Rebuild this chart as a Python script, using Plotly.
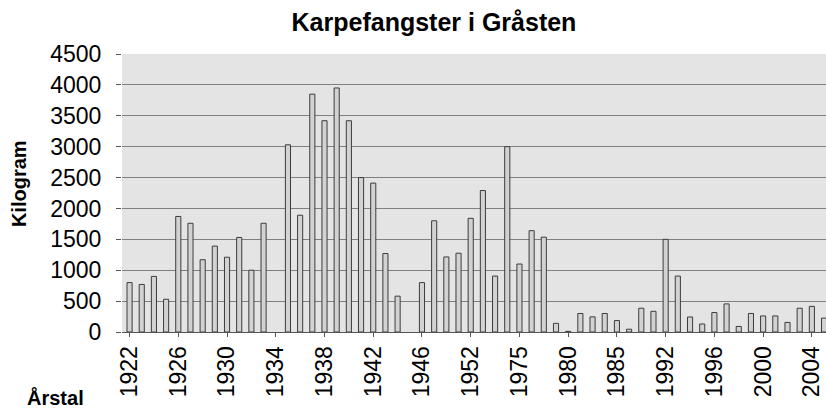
import plotly.graph_objects as go

years = ["1922", "1923", "1924", "1925", "1926", "1927", "1928", "1929", "1930", "1931",
         "1932", "1933", "1934", "1935", "1936", "1937", "1938", "1939", "1940", "1941",
         "1942", "1943", "1944", "1945", "1946", "1947", "1948", "1950", "1952", "1953",
         "1955", "1970", "1975", "1976", "1977", "1978", "1980", "1981", "1982", "1983",
         "1985", "1986", "1988", "1990", "1992", "1993", "1994", "1995", "1996", "1997",
         "1998", "1999", "2000", "2001", "2002", "2003", "2004", "2005"]
kilogram = [800, 770, 900, 530, 1870, 1760, 1170, 1390, 1210, 1530,
            1000, 1760, None, 3030, 1890, 3850, 3420, 3950, 3420, 2500,
            2410, 1270, 580, None, 800, 1800, 1215, 1275, 1840, 2290,
            905, 3000, 1100, 1640, 1535, 140, 10, 300, 245, 300,
            185, 45, 385, 335, 1500, 905, 243, 130, 315, 455,
            90, 300, 260, 260, 155, 385, 415, 225]
tick_labels = ["1922", "1926", "1930", "1934", "1938", "1942", "1946", "1952",
               "1975", "1980", "1985", "1992", "1996", "2000", "2004"]
y_ticks = [0, 500, 1000, 1500, 2000, 2500, 3000, 3500, 4000, 4500]

FONT = "Arial, Liberation Sans, sans-serif"

fig = go.Figure(go.Bar(
    x=years, y=kilogram,
    marker=dict(color="#d2d2d2", line=dict(color="#3c3c3c", width=1)),
))

fig.update_layout(
    width=826, height=409,
    margin=dict(l=122, r=0, t=54, b=77),
    paper_bgcolor="white",
    plot_bgcolor="#e4e4e4",
    bargap=0.58,
    showlegend=False,
    font=dict(family=FONT, color="black"),
    title=dict(text="<b>Karpefangster i Gråsten</b>", x=0.5254, xanchor="center",
               y=0.946, yanchor="middle", font=dict(size=25, family=FONT, color="black")),
    xaxis=dict(
        type="category", range=[-0.62, 57.16],
        tickmode="array", tickvals=tick_labels, ticktext=tick_labels,
        tickangle=-90, tickfont=dict(size=23, family=FONT, color="black"),
        ticks="outside", ticklen=4, tickcolor="#555555",
        showgrid=False, showline=True, linecolor="#555555", linewidth=1,
        zeroline=False,
    ),
    yaxis=dict(
        range=[0, 4500], tickmode="array", tickvals=y_ticks,
        tickfont=dict(size=23, family=FONT, color="black"),
        ticks="outside", ticklen=5, tickcolor="#555555",
        ticklabelstandoff=10,
        showgrid=True, gridcolor="#808080", gridwidth=1,
        showline=False, zeroline=False,
    ),
    annotations=[
        dict(text="<b>Kilogram</b>", xref="paper", yref="paper", x=-0.1463, y=0.532,
             xanchor="center", yanchor="middle", textangle=-90, showarrow=False,
             font=dict(size=20, family=FONT, color="black")),
        dict(text="<b>Årstal</b>", xref="paper", yref="paper", x=-0.094, y=-0.237,
             xanchor="center", yanchor="middle", showarrow=False,
             font=dict(size=20, family=FONT, color="black")),
    ],
)

# remove the default 8px page margin so the 826x409 figure fills the window exactly
fig.write_html("out.html", config={"displayModeBar": False},
               post_script="document.body.style.margin='0';")
